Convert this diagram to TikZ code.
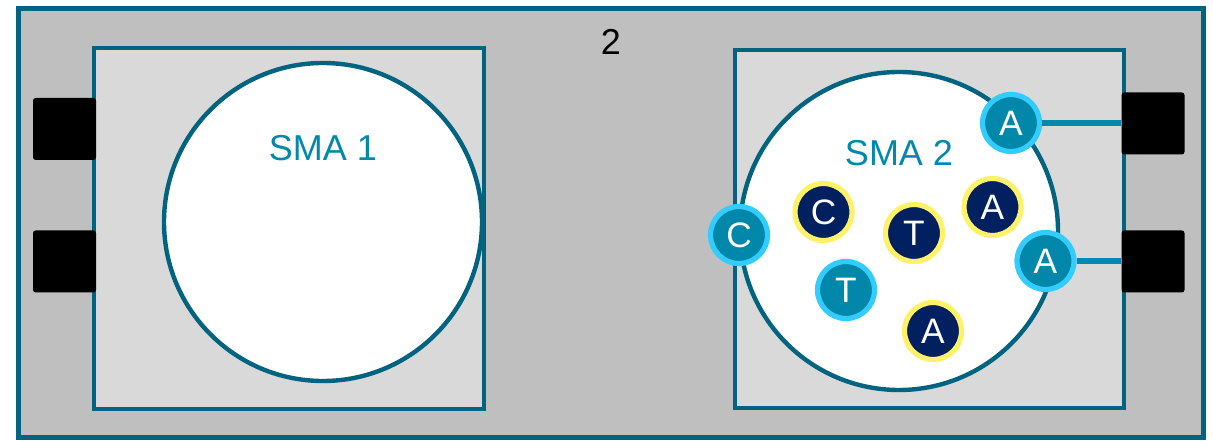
\documentclass[tikz,border=0pt]{standalone}
\usepackage{fontspec}
\setmainfont{Liberation Sans}
\definecolor{frame}{RGB}{0,99,128}
\definecolor{outerfill}{RGB}{191,191,191}
\definecolor{boxfill}{RGB}{217,217,217}
\definecolor{smatext}{RGB}{0,137,170}
\definecolor{cyanfill}{RGB}{0,135,170}
\definecolor{cyanring}{RGB}{51,204,255}
\definecolor{navyfill}{RGB}{0,32,96}
\definecolor{yellowring}{RGB}{255,242,102}
\definecolor{linkline}{RGB}{0,137,172}
\begin{document}
\begin{tikzpicture}[x=0.75pt,y=-0.75pt,
  outerbox/.style={draw=frame,fill=outerfill,line width=3.75pt},
  smabox/.style={draw=frame,fill=boxfill,line width=3.5pt},
  smacircle/.style={circle,draw=frame,fill=white,line width=3.3pt,inner sep=0pt,minimum size=318*0.75pt},
  port/.style={fill=black,rounded corners=2pt,minimum width=63*0.75pt,minimum height=62*0.75pt,inner sep=0pt},
  lbl/.style={font=\fontsize{27}{31}\selectfont},
  surface/.style={circle,inner sep=0pt,minimum size=57*0.75pt,line width=3.9pt,text=white,
    font=\fontsize{26.5}{30}\selectfont,draw=cyanring,fill=cyanfill},
  bound/.style={surface,draw=yellowring,fill=navyfill},
  link/.style={draw=linkline,line width=5.2pt}]
\useasboundingbox (0,0) rectangle (1213,441);
% chip outline
\draw[outerbox] (18,9) rectangle (1203,437);
\node[lbl] (chipno) at (611,42) {2};
% left SMA
\draw[smabox] (94,48) rectangle (484,409);
\node[smacircle] (sma1) at (323,222) {};
\node[lbl,text=smatext] (sma1lbl) at (323,148) {SMA 1};
% right SMA
\draw[smabox] (735,50) rectangle (1124,408);
\node[smacircle] (sma2) at (899,231) {};
\node[lbl,text=smatext] (sma2lbl) at (899,153) {SMA 2};
% ports
\node[port] (p1) at (64.5,129) {};
\node[port] (p2) at (64.5,261.5) {};
\node[port] (p3) at (1153,123.5) {};
\node[port] (p4) at (1153,261.5) {};
% bases on the surface
\node[surface] (a1) at (1011,123) {A};
\node[surface] (a2) at (1045.5,261) {A};
\node[surface] (c1) at (739,235) {C};
\node[surface] (t1) at (846,290) {T};
\node[bound] (c2) at (823.5,212) {C};
\node[bound] (t2) at (914,233) {T};
\node[bound] (a3) at (992.5,207) {A};
\node[bound] (a4) at (933,331) {A};
% links to the ports
\draw[link] (a1.east) -- (p3.west |- a1.east);
\draw[link] (a2.east) -- (p4.west |- a2.east);
\end{tikzpicture}
\end{document}
